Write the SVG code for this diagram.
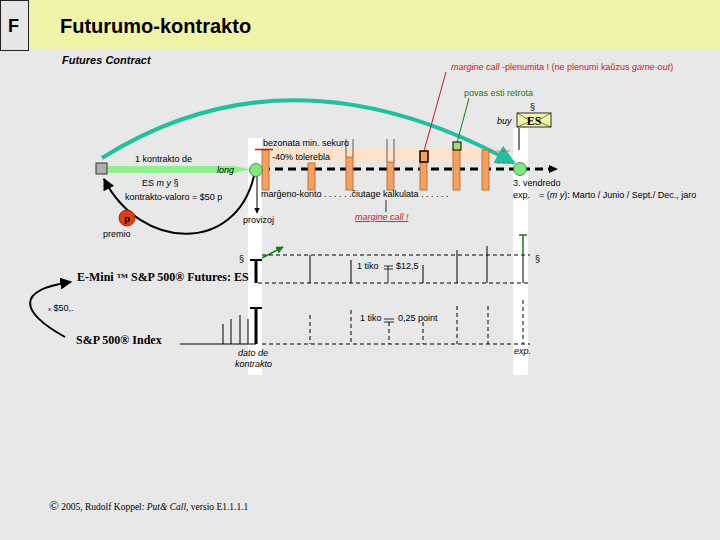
<svg xmlns="http://www.w3.org/2000/svg" width="720" height="540" viewBox="0 0 720 540">
<defs>
<style>
.s{font-family:"Liberation Sans",Arial,sans-serif;font-size:9px;fill:#000}
.r{font-family:"Liberation Serif","Times New Roman",serif;font-weight:bold;font-size:12px;fill:#000}
.red{fill:#c81818}
.grn{fill:#1a7a1a}
.bar{fill:#f4a060;stroke:#b86020;stroke-width:0.8}
.ln{stroke:#000;fill:none}
.dash{stroke:#000;stroke-dasharray:4,3;fill:none}
</style>
<marker id="ah" viewBox="0 0 10 10" refX="9" refY="5" markerWidth="6" markerHeight="6" orient="auto"><path d="M0 0L10 5L0 10z" fill="#000"/></marker>
<marker id="ahT" viewBox="0 0 10 10" refX="9" refY="5" markerWidth="5" markerHeight="5" orient="auto"><path d="M0 0L10 5L0 10z" fill="#20c0a0"/></marker>
<marker id="ahG" viewBox="0 0 10 10" refX="9" refY="5" markerWidth="5" markerHeight="5" orient="auto"><path d="M0 0L10 5L0 10z" fill="#1a7a1a"/></marker>
<linearGradient id="pg" x1="0" x2="1"><stop offset="0" stop-color="#fde2cc"/><stop offset="0.9" stop-color="#fde2cc"/><stop offset="1" stop-color="#fde2cc" stop-opacity="0"/></linearGradient>
</defs>
<rect width="720" height="540" fill="#e8e8e8"/>
<rect x="28" y="0" width="692" height="50" fill="#f0f4a8"/>
<g id="fbox"><rect x="0.5" y="0.5" width="28" height="50" fill="#e6e6e6" stroke="#222"/><text x="8" y="32" font-family="Liberation Sans,Arial,sans-serif" font-weight="bold" font-size="18">F</text></g>
<text x="60" y="33" font-family="Liberation Sans,Arial,sans-serif" font-weight="bold" font-size="20">Futurumo-kontrakto</text>
<text x="62" y="64" font-family="Liberation Sans,Arial,sans-serif" font-weight="bold" font-style="italic" font-size="11">Futures Contract</text>

<!-- white strips -->
<rect x="248" y="138" width="14" height="237" fill="#fff"/>
<rect x="513" y="128" width="15" height="247" fill="#fff"/>
<!-- peach band -->
<rect x="262" y="148" width="251" height="14" fill="url(#pg)"/>

<!-- top texts -->
<text x="451" y="70" class="s red"><tspan font-style="italic">margine call</tspan>  -plenumita ! (ne plenumi kaŭzus <tspan font-style="italic">game-out</tspan>)</text>
<text x="464" y="96" class="s grn">povas esti retrota</text>

<g id="esbox">
<text x="497" y="124" class="s" font-style="italic">buy</text>
<text x="530" y="110" class="s">§</text>
<rect x="517" y="113" width="34" height="14" fill="#f0f4a8" stroke="#000" stroke-width="0.8"/>
<path d="M517 113L531 121L517 127M551 113L537 121L551 127" class="ln" stroke-width="0.5"/>
<text x="534" y="125" class="r" font-size="10" text-anchor="middle">ES</text>
<line x1="519" y1="128" x2="519" y2="150" class="ln"/>
</g>

<g id="connectors">
<path d="M102 158 Q290 40 514 163" stroke="#20c0a0" stroke-width="4" fill="none" marker-end="url(#ahT)"/>
<line x1="446" y1="72" x2="424" y2="151" stroke="#c81818" stroke-width="1"/>
<line x1="469" y1="98" x2="457" y2="143" stroke="#1a7a1a" stroke-width="1"/>
<polygon points="108,166 235,166 250,169.5 235,173 108,173" fill="#90f090"/>
<path d="M254 176C235 255 140 250 104 179" class="ln" stroke-width="2" marker-end="url(#ah)"/>
<line x1="257" y1="176" x2="257" y2="213" class="ln" stroke-width="1" marker-end="url(#ah)"/>
<line x1="386" y1="200" x2="386" y2="212" class="ln" stroke-width="0.8"/>
<line x1="262" y1="169" x2="553" y2="169" stroke="#000" stroke-width="3" stroke-dasharray="8,5"/>
<path d="M549 165L558 169L549 173z" fill="#000"/>
<path d="M65 337C20 312 15 290 71 282" class="ln" stroke-width="2" marker-end="url(#ah)"/>
<line x1="262" y1="258" x2="283" y2="247" stroke="#1a7a1a" stroke-width="1.5" marker-end="url(#ahG)"/>
</g>

<g id="bars">
<rect x="262" y="150" width="7" height="40" class="bar"/>
<line x1="255" y1="149.5" x2="273" y2="149.5" stroke="#c81818" stroke-width="1.5"/>
<rect x="308" y="163" width="7" height="27" class="bar"/>
<path d="M346 139V157M353 139V157M387 139V162M394 139V162" class="ln" stroke-width="0.6"/>
<rect x="346" y="157" width="7" height="33" class="bar"/>
<rect x="387" y="162" width="7" height="28" class="bar"/>
<rect x="420" y="160" width="7" height="30" class="bar"/>
<rect x="420" y="151" width="8" height="11" fill="#f4a060" stroke="#000" stroke-width="1.5"/>
<rect x="453" y="149" width="7" height="41" class="bar"/>
<rect x="453" y="142" width="8" height="8" fill="#a0e070" stroke="#000" stroke-width="1"/>
<rect x="482" y="150" width="7" height="40" class="bar"/>
<path d="M497 151H512M497 163H512" stroke="#c81818" stroke-width="0.6" stroke-dasharray="3,2"/>
</g>

<g id="square"><rect x="96" y="163" width="11" height="11" fill="#b0b0b0" stroke="#333"/></g>
<g id="circle1"><circle cx="256" cy="170" r="6.5" fill="#80e880" stroke="#2a7a2a" stroke-width="0.8"/></g>
<g id="circle2"><circle cx="520" cy="169" r="6.5" fill="#80e880" stroke="#2a7a2a" stroke-width="0.8"/></g>
<g id="premio"><circle cx="127" cy="218" r="8" fill="#e04010" stroke="#802000" stroke-width="0.8"/><text x="127" y="222" text-anchor="middle" font-family="Liberation Serif,serif" font-weight="bold" font-size="11">p</text><text x="103" y="237" class="s">premio</text></g>

<text x="135" y="162" class="s" font-size="9.5">1 kontrakto de</text>
<text x="217" y="173" class="s" font-style="italic" fill="#2e6a2e">long</text>
<text x="142" y="186" class="s" font-size="9.5">ES <tspan font-style="italic">m y</tspan> §</text>
<text x="125" y="200" class="s" font-size="9.5">kontrakto-valoro = $50 p</text>
<text x="263" y="146" class="s">bezonata min. sekuro</text>
<text x="272" y="160" class="s">-40% tolerebla</text>
<text x="261" y="197" class="s">marĝeno-konto . . . . . .ĉiutage kalkulata . . . . . .</text>
<text x="243" y="223" class="s">provizoj</text>
<text x="355" y="220" class="s red" font-style="italic" text-decoration="underline">margine call !</text>
<text x="513" y="186" class="s">3. vendredo</text>
<text x="513" y="198" class="s">exp.<tspan x="539">= (<tspan font-style="italic">m y</tspan>): Marto / Junio / Sept./ Dec., jaro</tspan></text>

<g id="futures">
<text x="239" y="262" class="s">§</text>
<text x="535" y="262" class="s">§</text>
<line x1="262" y1="255" x2="530" y2="255" class="dash"/>
<line x1="258" y1="283" x2="530" y2="283" class="dash"/>
<path d="M256 260V283" class="ln" stroke-width="3"/>
<path d="M250 260H262" class="ln" stroke-width="2"/>
<path d="M310 255V283M351 260V283M423 265V283M457 250V283M487 246V283M523 255V283" class="ln" stroke-width="1"/>
<path d="M523 235V255M519 235H527" stroke="#1a7a1a" stroke-width="1.5"/>
<text x="357" y="269" class="s">1 tiko</text>
<path d="M384 266H393M384 269H393M388 266V283" class="ln" stroke-width="0.8"/>
<text x="396" y="269" class="s">$12,5</text>
<text x="77" y="281" class="r">E-Mini <tspan font-size="7" dy="-3">TM</tspan><tspan dy="3"> S&amp;P 500® Futures: ES</tspan></text>
</g>

<g id="index">
<text x="48" y="311" class="s"><tspan font-size="6">x</tspan> $50,.</text>
<line x1="180" y1="344" x2="256" y2="344" class="ln" stroke-width="1.2"/>
<line x1="262" y1="344" x2="530" y2="344" class="dash" stroke-width="1.2"/>
<path d="M256 308V344" class="ln" stroke-width="3"/>
<path d="M250 308H262" class="ln" stroke-width="2"/>
<path d="M223 324V344M231 319V344M240 315V344M248 319V344" class="ln" stroke-width="1"/>
<path d="M310 315V344M351 310V344M389 322V344M423 322V344M457 306V344M488 306V344M523 300V344" class="dash" stroke-width="1"/>
<path d="M384 319H394M384 322H394" class="ln" stroke-width="0.8"/>
<text x="360" y="321" class="s">1 tiko</text>
<text x="398" y="321" class="s">0,25 point</text>
<text x="514" y="354" class="s" font-style="italic">exp.</text>
<text x="238" y="356" class="s" font-style="italic" font-size="8.5">dato de</text>
<text x="235" y="367" class="s" font-style="italic" font-size="8.5">kontrakto</text>
<text x="76" y="344" class="r">S&amp;P 500® Index</text>
</g>

<text x="49" y="510" font-family="Liberation Serif,serif" font-size="9.5"><tspan font-size="13">©</tspan> 2005,  Rudolf  Koppel: <tspan font-style="italic">Put&amp; Call,</tspan>  versio E1.1.1.1</text>
</svg>
